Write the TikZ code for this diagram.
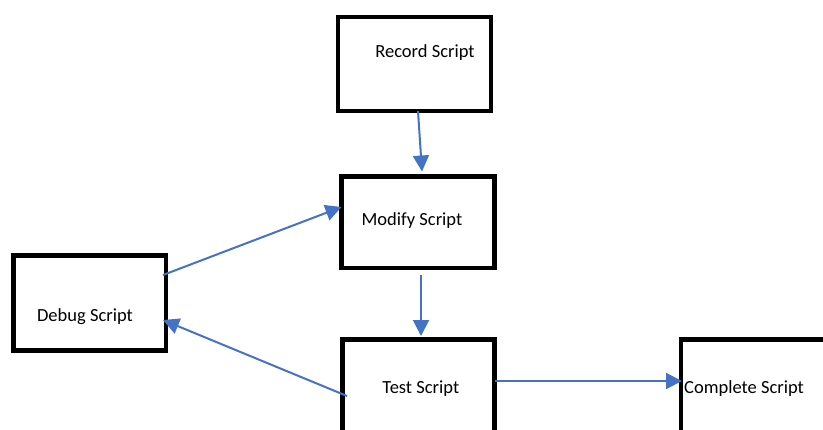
\documentclass[tikz,border=0pt]{standalone}
\usepackage{fontspec}
\setmainfont{Carlito}
\usetikzlibrary{arrows.meta,calc}
\definecolor{linkblue}{HTML}{4472C4}
\begin{document}
\begin{tikzpicture}[x=1pt,y=-1pt,
  box/.style={draw=black,line width=4.5pt,inner sep=0pt,outer sep=0pt},
  lbl/.style={inner sep=0pt,anchor=base,font=\fontsize{18.5}{22}\selectfont},
  link/.style={draw=linkblue,line width=2pt,-{Triangle[length=16pt,width=16pt]}}]
\useasboundingbox (0,0) rectangle (823,429);
\clip (0,0) rectangle (823,429);
% boxes
\node[box,minimum width=153pt,minimum height=94pt] (rec) at (414.5,64) {};
\node[box,minimum width=153pt,minimum height=91.5pt] (mod) at (418,222.25) {};
\node[box,minimum width=152.5pt,minimum height=95pt] (dbg) at (89.75,303) {};
\node[box,minimum width=152pt,minimum height=100pt] (tst) at (418.5,389.5) {};
\node[box,minimum width=159pt,minimum height=100pt] (cmp) at (760.5,389.5) {};
% labels
\node[lbl] (recT) at (425,57.5) {Record Script};
\node[lbl] (modT) at (412,225) {Modify Script};
\node[lbl] (dbgT) at (85,321.7) {Debug Script};
\node[lbl] (tstT) at (420.8,393) {Test Script};
\node[lbl,anchor=base west] (cmpT) at (684,393) {Complete Script};
% connectors
\draw[link] ([xshift=3.5pt]rec.south) -- ([xshift=4pt,yshift=5pt]mod.north);
\draw[link] ([xshift=3pt,yshift=-7pt]mod.south) -- ([xshift=2.5pt,yshift=3.5pt]tst.north);
\draw[link] ([xshift=-3pt,yshift=-19.5pt]dbg.north east) -- ([yshift=-30.5pt]mod.north west);
\draw[link] ([xshift=4.5pt,yshift=-56.5pt]tst.north west) -- ([xshift=-3pt,yshift=-64.5pt]dbg.north east);
\draw[link] ([yshift=-41.5pt]tst.north east) -- ([xshift=1pt,yshift=-41.5pt]cmp.north west);
\end{tikzpicture}
\end{document}
